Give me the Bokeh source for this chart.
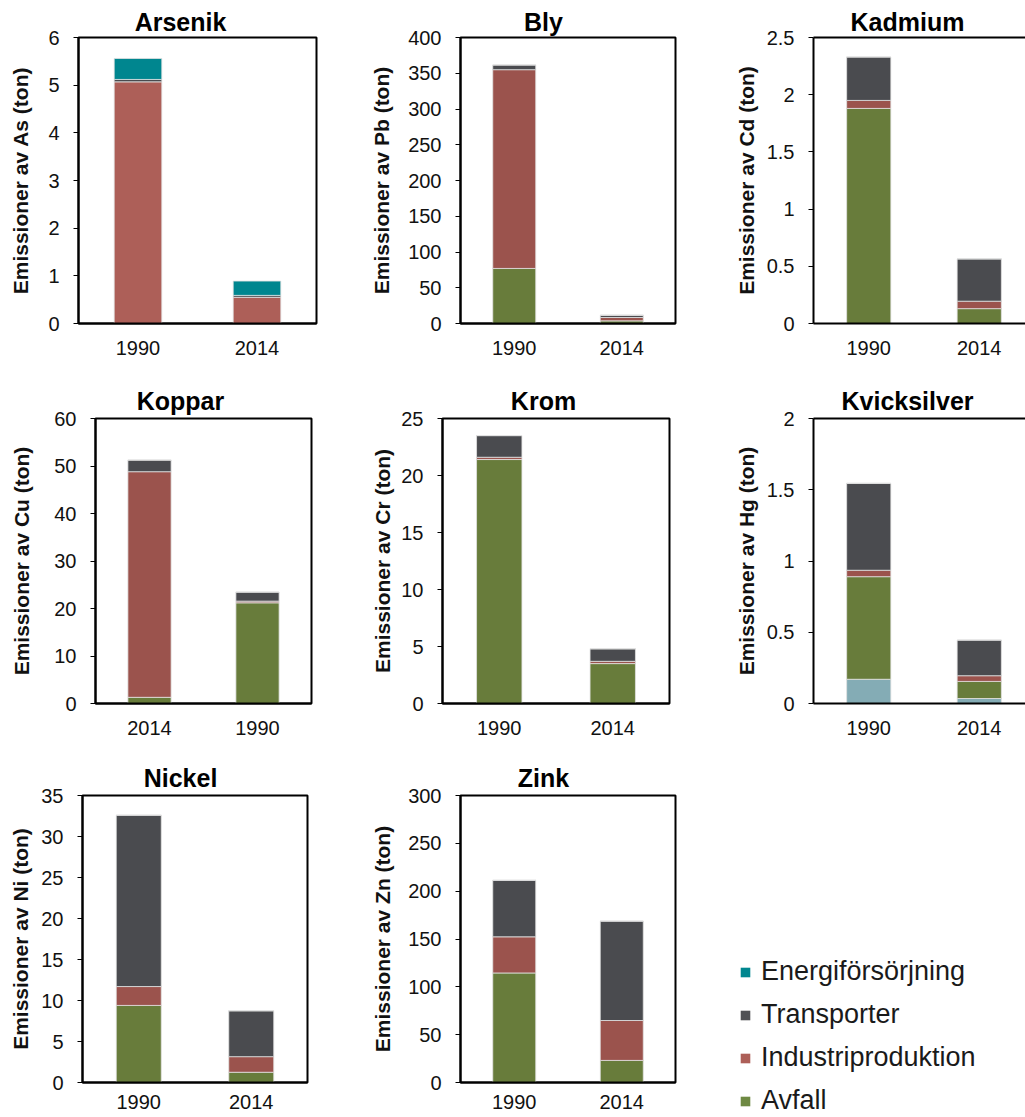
import numpy as np
from bokeh.plotting import figure
from bokeh.layouts import row, column
from bokeh.models import (Range1d, FixedTicker, NumeralTickFormatter, ColumnDataSource,
                          Legend, LegendItem, LinearAxis, Title)
from bokeh.embed import file_html
from bokeh.resources import INLINE

# ---------------- data ----------------
panels = ["Arsenik", "Bly", "Kadmium", "Koppar", "Krom", "Kvicksilver", "Nickel", "Zink"]
symbols = ["As", "Pb", "Cd", "Cu", "Cr", "Hg", "Ni", "Zn"]

years = {
    "Arsenik": ["1990", "2014"],
    "Bly": ["1990", "2014"],
    "Kadmium": ["1990", "2014"],
    "Koppar": ["2014", "1990"],
    "Krom": ["1990", "2014"],
    "Kvicksilver": ["1990", "2014"],
    "Nickel": ["1990", "2014"],
    "Zink": ["1990", "2014"],
}

# stack order bottom -> top
series = ["Övrigt", "Avfall", "Industriproduktion", "Transporter", "Energiförsörjning"]
legend_order = ["Energiförsörjning", "Transporter", "Industriproduktion", "Avfall"]

ovrigt = {"Arsenik": [0, 0], "Bly": [0, 0], "Kadmium": [0, 0], "Koppar": [0, 0],
          "Krom": [0, 0], "Kvicksilver": [0.17, 0.035], "Nickel": [0, 0], "Zink": [0, 0]}
avfall = {"Arsenik": [0, 0], "Bly": [77, 3.7], "Kadmium": [1.88, 0.13], "Koppar": [1.3, 21.2],
          "Krom": [21.4, 3.5], "Kvicksilver": [0.72, 0.12], "Nickel": [9.4, 1.25], "Zink": [114.5, 23.1]}
industri = {"Arsenik": [5.07, 0.55], "Bly": [278, 4.7], "Kadmium": [0.07, 0.065], "Koppar": [47.5, 0.35],
            "Krom": [0.2, 0.2], "Kvicksilver": [0.045, 0.04], "Nickel": [2.3, 1.9], "Zink": [37.8, 41.7]}
transport = {"Arsenik": [0.05, 0.04], "Bly": [6.6, 3.2], "Kadmium": [0.38, 0.37], "Koppar": [2.45, 1.9],
             "Krom": [1.9, 1.1], "Kvicksilver": [0.61, 0.25], "Nickel": [20.9, 5.6], "Zink": [59.1, 103.9]}
energi = {"Arsenik": [0.44, 0.30], "Bly": [0, 0], "Kadmium": [0, 0], "Koppar": [0, 0],
          "Krom": [0, 0], "Kvicksilver": [0, 0], "Nickel": [0, 0], "Zink": [0, 0]}

y_ticks = {
    "Arsenik": [0, 1, 2, 3, 4, 5, 6],
    "Bly": [0, 50, 100, 150, 200, 250, 300, 350, 400],
    "Kadmium": [0, 0.5, 1, 1.5, 2, 2.5],
    "Koppar": [0, 10, 20, 30, 40, 50, 60],
    "Krom": [0, 5, 10, 15, 20, 25],
    "Kvicksilver": [0, 0.5, 1, 1.5, 2],
    "Nickel": [0, 5, 10, 15, 20, 25, 30, 35],
    "Zink": [0, 50, 100, 150, 200, 250, 300],
}

# ---------------- styles / layout ----------------
colors = {"Övrigt": "#84ACB5", "Avfall": "#687C3B", "Industriproduktion": "#9B534D",
          "Transporter": "#4A4B4F", "Energiförsörjning": "#00868F"}
industri_override = {"Arsenik": "#AD5F58"}
legend_colors = {"Energiförsörjning": "#00868F", "Transporter": "#505155",
                 "Industriproduktion": "#AD5F58", "Avfall": "#6E8943"}

# page geometry (px): cell (x0, x1, y0, y1), frame (L, R, T, B), title centre,
# title standoff, y-label standoff, x-label standoff
geom = {
    "Arsenik":     dict(cell=(0, 330, 0, 380),      frame=(78, 316, 37, 323),    title=(180, 21),  tso=4,  ylso=13, xlso=17),
    "Bly":         dict(cell=(330, 700, 0, 380),    frame=(460, 675, 37, 323),   title=(543, 21),  tso=4,  ylso=12, xlso=17),
    "Kadmium":     dict(cell=(700, 1025, 0, 380),   frame=(813, 1034, 37, 323),  title=(907, 21),  tso=4,  ylso=6,  xlso=17),
    "Koppar":      dict(cell=(0, 330, 380, 754),    frame=(95, 311, 418, 703),   title=(180, 399), tso=8,  ylso=18, xlso=17),
    "Krom":        dict(cell=(330, 700, 380, 754),  frame=(442, 669, 418, 703),  title=(543, 399), tso=8,  ylso=4,  xlso=17),
    "Kvicksilver": dict(cell=(700, 1025, 380, 754), frame=(813, 1034, 418, 703), title=(907, 399), tso=8,  ylso=6,  xlso=17),
    "Nickel":      dict(cell=(0, 330, 754, 1117),   frame=(82, 307, 795, 1082),  title=(180, 777), tso=7,  ylso=6,  xlso=12),
    "Zink":        dict(cell=(330, 700, 754, 1117), frame=(460, 675, 795, 1082), title=(543, 777), tso=8,  ylso=11, xlso=12),
}
legend_cell = (700, 1025, 754, 1117)
legend_left, legend_bottom = 739, 1116

FONT = "Liberation Sans"
TITLE_SIZE = 25
# advance widths (per 1000 em) of Liberation Sans Bold, used to centre the titles
BOLD_W = {"A": 722, "B": 722, "K": 722, "N": 722, "Z": 611, "a": 556, "c": 556, "d": 611,
          "e": 556, "i": 278, "k": 556, "l": 278, "m": 889, "n": 611, "o": 611, "p": 611,
          "r": 389, "s": 556, "u": 611, "v": 556, "y": 556}


def text_width(s, size):
    return sum(BOLD_W.get(ch, 556) for ch in s) * size / 1000.0


figs = {}
sources = {}

for name, sym in zip(panels, symbols):
    g = geom[name]
    x0, x1, y0, y1 = g["cell"]
    L, R, T, B = g["frame"]
    Rv = min(R, x1)
    cats = years[name]
    n = len(cats)
    xs = np.arange(n) + 0.5
    data = dict(x=xs, year=cats)
    data["Övrigt"] = ovrigt[name]
    data["Avfall"] = avfall[name]
    data["Industriproduktion"] = industri[name]
    data["Transporter"] = transport[name]
    data["Energiförsörjning"] = energi[name]
    src = ColumnDataSource(data)
    sources[name] = src
    yt = y_ticks[name]

    cx, cy = g["title"]
    ttl = Title(text=name, align="left", offset=cx - L - text_width(name, TITLE_SIZE) / 2,
                standoff=g["tso"], text_font=FONT, text_font_style="bold",
                text_font_size=f"{TITLE_SIZE}px", text_color="black")

    p = figure(width=x1 - x0, height=y1 - y0,
               x_range=Range1d(0, n * (Rv - L) / (R - L)),
               y_range=Range1d(0, yt[-1]),
               output_backend="svg", toolbar_location=None, title=ttl,
               min_border_left=L - x0, min_border_right=x1 - Rv,
               min_border_top=T - y0, min_border_bottom=y1 - B,
               background_fill_color="white", border_fill_color="white")

    cols = [colors[s] for s in series]
    if name in industri_override:
        cols[series.index("Industriproduktion")] = industri_override[name]
    p.vbar_stack(series, x="x", width=0.4, source=src, fill_color=cols,
                 line_color="#E2E2E2", line_width=0.8)

    p.xgrid.visible = False
    p.ygrid.visible = False

    # x axis
    xa = p.xaxis[0]
    xa.ticker = FixedTicker(ticks=list(xs))
    xa.major_label_overrides = {float(v): c for v, c in zip(xs, cats)}
    xa.major_tick_out = 0
    xa.major_tick_in = 0
    xa.minor_tick_out = 0
    xa.minor_tick_in = 0
    xa.axis_line_width = 2
    xa.axis_line_color = "black"
    xa.major_label_standoff = g["xlso"]
    xa.major_label_text_font = FONT
    xa.major_label_text_font_size = "20px"
    xa.major_label_text_color = "#111111"

    # y axis
    ya = p.yaxis[0]
    ya.ticker = FixedTicker(ticks=yt)
    ya.formatter = NumeralTickFormatter(format="0.[0]")
    ya.major_tick_out = 5
    ya.major_tick_in = 0
    ya.minor_tick_out = 0
    ya.minor_tick_in = 0
    ya.major_tick_line_color = "black"
    ya.axis_line_width = 2
    ya.axis_line_color = "black"
    ya.major_label_standoff = 14
    ya.major_label_text_font = FONT
    ya.major_label_text_font_size = "20px"
    ya.major_label_text_color = "#111111"
    ya.axis_label = f"Emissioner av {sym} (ton)"
    ya.axis_label_text_font = FONT
    ya.axis_label_text_font_style = "bold"
    ya.axis_label_text_font_size = "21px"
    ya.axis_label_text_color = "#111111"
    ya.axis_label_standoff = g["ylso"]

    if R > x1:
        # frame runs past the page edge: draw only top, left and bottom borders
        p.outline_line_color = None
        top = LinearAxis(ticker=FixedTicker(ticks=[]), axis_line_width=2, axis_line_color="black",
                         major_tick_out=0, major_tick_in=0, minor_tick_out=0, minor_tick_in=0,
                         major_label_text_font_size="0px")
        p.add_layout(top, "above")
    else:
        p.outline_line_color = "black"
        p.outline_line_width = 2
        p.outline_line_alpha = 1

    figs[name] = p

# ---------------- legend panel ----------------
lx0, lx1, ly0, ly1 = legend_cell
pl = figure(width=lx1 - lx0, height=ly1 - ly0, output_backend="svg", toolbar_location=None,
            title=None, x_axis_location=None, y_axis_location=None,
            x_range=Range1d(0, 1), y_range=Range1d(0, 1),
            min_border_left=0, min_border_right=0, min_border_top=0, min_border_bottom=0,
            background_fill_color="white", border_fill_color="white", outline_line_color=None)
pl.xgrid.visible = False
pl.ygrid.visible = False
# legend keys: hidden copies of the Zink stacks (only their colour swatches are shown)
key_rs = pl.vbar_stack(legend_order[::-1], x="x", width=0.4, source=sources["Zink"],
                       fill_color=[legend_colors[s] for s in legend_order[::-1]],
                       line_color=None, visible=False)
key_map = dict(zip(legend_order[::-1], key_rs))
items = [LegendItem(label=s, renderers=[key_map[s]]) for s in legend_order]
leg = Legend(items=items, location=(legend_left - lx0, ly1 - legend_bottom),
             orientation="vertical", padding=0, margin=0, spacing=12,
             glyph_width=12, glyph_height=12, label_standoff=10, label_height=31,
             label_text_font=FONT, label_text_font_size="27px", label_text_color="#1a1a1a",
             border_line_alpha=0, background_fill_alpha=0,
             inactive_fill_alpha=0, click_policy="none")
pl.add_layout(leg)

layout = column(
    row(figs["Arsenik"], figs["Bly"], figs["Kadmium"]),
    row(figs["Koppar"], figs["Krom"], figs["Kvicksilver"]),
    row(figs["Nickel"], figs["Zink"], column(pl)),
)

open("out.html", "w").write(file_html(layout, INLINE))
